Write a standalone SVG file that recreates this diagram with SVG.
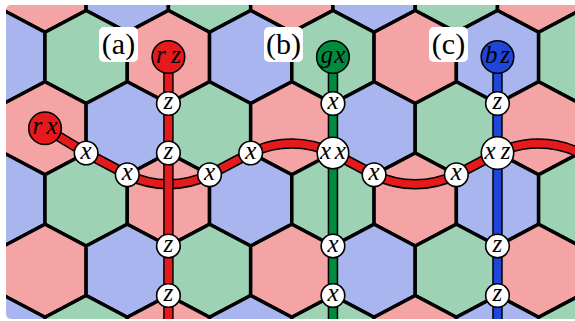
<svg xmlns="http://www.w3.org/2000/svg" width="575" height="321" viewBox="0 0 575 321">
<style>
.R{fill:#f4a4a4}.G{fill:#9dd2b5}.B{fill:#a9b5ef}
.hx{stroke:#000;stroke-width:3.5;stroke-linejoin:miter}
.box{fill:#fff}
.ol{fill:none;stroke:#000;stroke-width:10.5;stroke-linejoin:round}
.rs{fill:none;stroke:#e41a1c;stroke-width:7.5;stroke-linejoin:round}
.gs{fill:none;stroke:#008a3e;stroke-width:7.5}
.bs{fill:none;stroke:#1f46d6;stroke-width:7.5}
.n{fill:#fff;stroke:#000;stroke-width:1.6}
.nr{fill:#e41a1c;stroke:#000;stroke-width:1.6}
.ng{fill:#008a3e;stroke:#000;stroke-width:1.6}
.nb{fill:#1f46d6;stroke:#000;stroke-width:1.6}
</style>
<defs>
<polygon id="hx" points="0,-46.5 41.14,-24.75 41.14,24.75 0,46.5 -41.14,24.75 -41.14,-24.75"/>
<clipPath id="frame"><rect x="6" y="5" width="620" height="314" rx="5"/></clipPath>
</defs>
<rect width="575" height="321" fill="#fff"/>
<g id="lattice" clip-path="url(#frame)">
<g class="hx">
<use href="#hx" x="45" y="-14.25" class="R"/><use href="#hx" x="127.27" y="-14.25" class="B"/><use href="#hx" x="209.54" y="-14.25" class="G"/><use href="#hx" x="291.81" y="-14.25" class="R"/><use href="#hx" x="374.08" y="-14.25" class="B"/><use href="#hx" x="456.35" y="-14.25" class="G"/><use href="#hx" x="538.62" y="-14.25" class="R"/>
<use href="#hx" x="3.87" y="57" class="B"/><use href="#hx" x="86.14" y="57" class="G"/><use href="#hx" x="168.41" y="57" class="R"/><use href="#hx" x="250.68" y="57" class="B"/><use href="#hx" x="332.95" y="57" class="G"/><use href="#hx" x="415.22" y="57" class="R"/><use href="#hx" x="497.49" y="57" class="B"/><use href="#hx" x="579.76" y="57" class="G"/>
<use href="#hx" x="45" y="128.25" class="R"/><use href="#hx" x="127.27" y="128.25" class="B"/><use href="#hx" x="209.54" y="128.25" class="G"/><use href="#hx" x="291.81" y="128.25" class="R"/><use href="#hx" x="374.08" y="128.25" class="B"/><use href="#hx" x="456.35" y="128.25" class="G"/><use href="#hx" x="538.62" y="128.25" class="R"/>
<use href="#hx" x="3.87" y="199.5" class="B"/><use href="#hx" x="86.14" y="199.5" class="G"/><use href="#hx" x="168.41" y="199.5" class="R"/><use href="#hx" x="250.68" y="199.5" class="B"/><use href="#hx" x="332.95" y="199.5" class="G"/><use href="#hx" x="415.22" y="199.5" class="R"/><use href="#hx" x="497.49" y="199.5" class="B"/><use href="#hx" x="579.76" y="199.5" class="G"/>
<use href="#hx" x="45" y="270.75" class="R"/><use href="#hx" x="127.27" y="270.75" class="B"/><use href="#hx" x="209.54" y="270.75" class="G"/><use href="#hx" x="291.81" y="270.75" class="R"/><use href="#hx" x="374.08" y="270.75" class="B"/><use href="#hx" x="456.35" y="270.75" class="G"/><use href="#hx" x="538.62" y="270.75" class="R"/>
<use href="#hx" x="3.87" y="342" class="B"/><use href="#hx" x="86.14" y="342" class="G"/><use href="#hx" x="168.41" y="342" class="R"/><use href="#hx" x="250.68" y="342" class="B"/><use href="#hx" x="332.95" y="342" class="G"/><use href="#hx" x="415.22" y="342" class="R"/><use href="#hx" x="497.49" y="342" class="B"/><use href="#hx" x="579.76" y="342" class="G"/>
</g>
</g>
<g id="labels" font-family="Liberation Serif, serif" font-size="30" text-anchor="middle">
<g id="label-a"><rect class="box" x="99" y="27" width="39" height="35" rx="5"/><text x="118.5" y="54">(a)</text></g>
<g id="label-b"><rect class="box" x="264" y="27" width="39" height="35" rx="5"/><text x="283.5" y="54">(b)</text></g>
<g id="label-c"><rect class="box" x="429" y="27" width="39" height="35" rx="5"/><text x="448.5" y="54">(c)</text></g>
</g>
<g id="connectors" clip-path="url(#frame)">
<path id="string-o" class="ol" d="M45 128.25L86.14 153L127.27 174.75A94 94 0 0 0 209.54 174.75L250.68 153A94 94 0 0 1 332.95 153L374.08 174.75A94 94 0 0 0 456.35 174.75L497.49 153A94 94 0 0 1 579.76 153L610 171"/>
<path id="string" class="rs" d="M45 128.25L86.14 153L127.27 174.75A94 94 0 0 0 209.54 174.75L250.68 153A94 94 0 0 1 332.95 153L374.08 174.75A94 94 0 0 0 456.35 174.75L497.49 153A94 94 0 0 1 579.76 153L610 171"/>
<path class="ol" d="M168.41 57V330M332.95 57V330M497.49 57V330"/>
<path id="red-line" class="rs" d="M168.41 57V330"/>
<path id="green-line" class="gs" d="M332.95 57V330"/>
<path id="blue-line" class="bs" d="M497.49 57V330"/>
</g>
<g id="nodes" font-family="Liberation Serif, serif" font-style="italic" font-size="25" text-anchor="middle">
<g id="n-rx"><circle class="nr" cx="45" cy="128.25" r="16.3"/><text x="45" y="133.75" textLength="25" lengthAdjust="spacing">rx</text></g>
<g id="n-rz"><circle class="nr" cx="168.41" cy="57" r="16.3"/><text x="168.41" y="62.5" textLength="25" lengthAdjust="spacing">rz</text></g>
<g id="n-gx"><circle class="ng" cx="332.95" cy="57" r="16.3"/><text x="332.95" y="62.5" textLength="25" lengthAdjust="spacing">gx</text></g>
<g id="n-bz"><circle class="nb" cx="497.49" cy="57" r="16.3"/><text x="497.49" y="62.5" textLength="25" lengthAdjust="spacing">bz</text></g>
<g id="n-x1"><circle class="n" cx="86.14" cy="153" r="11.8"/><text x="86.14" y="158.5">x</text></g>
<g id="n-x2"><circle class="n" cx="127.27" cy="174.75" r="11.8"/><text x="127.27" y="180.25">x</text></g>
<g id="n-x3"><circle class="n" cx="209.54" cy="174.75" r="11.8"/><text x="209.54" y="180.25">x</text></g>
<g id="n-x4"><circle class="n" cx="250.68" cy="153" r="11.8"/><text x="250.68" y="158.5">x</text></g>
<g id="n-x5"><circle class="n" cx="374.08" cy="174.75" r="11.8"/><text x="374.08" y="180.25">x</text></g>
<g id="n-x6"><circle class="n" cx="456.35" cy="174.75" r="11.8"/><text x="456.35" y="180.25">x</text></g>
<g id="n-rz1"><circle class="n" cx="168.41" cy="103.5" r="11.8"/><text x="168.41" y="109">z</text></g>
<g id="n-rz2"><circle class="n" cx="168.41" cy="153" r="11.8"/><text x="168.41" y="158.5">z</text></g>
<g id="n-rz3"><circle class="n" cx="168.41" cy="246" r="11.8"/><text x="168.41" y="251.5">z</text></g>
<g id="n-rz4"><circle class="n" cx="168.41" cy="295.5" r="11.8"/><text x="168.41" y="301">z</text></g>
<g id="n-gx1"><circle class="n" cx="332.95" cy="103.5" r="11.8"/><text x="332.95" y="109">x</text></g>
<g id="n-xx"><circle class="n" cx="332.95" cy="153" r="15.8"/><text x="332.95" y="158.5" textLength="26" lengthAdjust="spacing">xx</text></g>
<g id="n-gx3"><circle class="n" cx="332.95" cy="246" r="11.8"/><text x="332.95" y="251.5">x</text></g>
<g id="n-gx4"><circle class="n" cx="332.95" cy="295.5" r="11.8"/><text x="332.95" y="301">x</text></g>
<g id="n-bz1"><circle class="n" cx="497.49" cy="103.5" r="11.8"/><text x="497.49" y="109">z</text></g>
<g id="n-xz"><circle class="n" cx="497.49" cy="153" r="16.2"/><text x="497.49" y="158.5" textLength="26" lengthAdjust="spacing">xz</text></g>
<g id="n-bz3"><circle class="n" cx="497.49" cy="246" r="11.8"/><text x="497.49" y="251.5">z</text></g>
<g id="n-bz4"><circle class="n" cx="497.49" cy="295.5" r="11.8"/><text x="497.49" y="301">z</text></g>
</g>
</svg>
